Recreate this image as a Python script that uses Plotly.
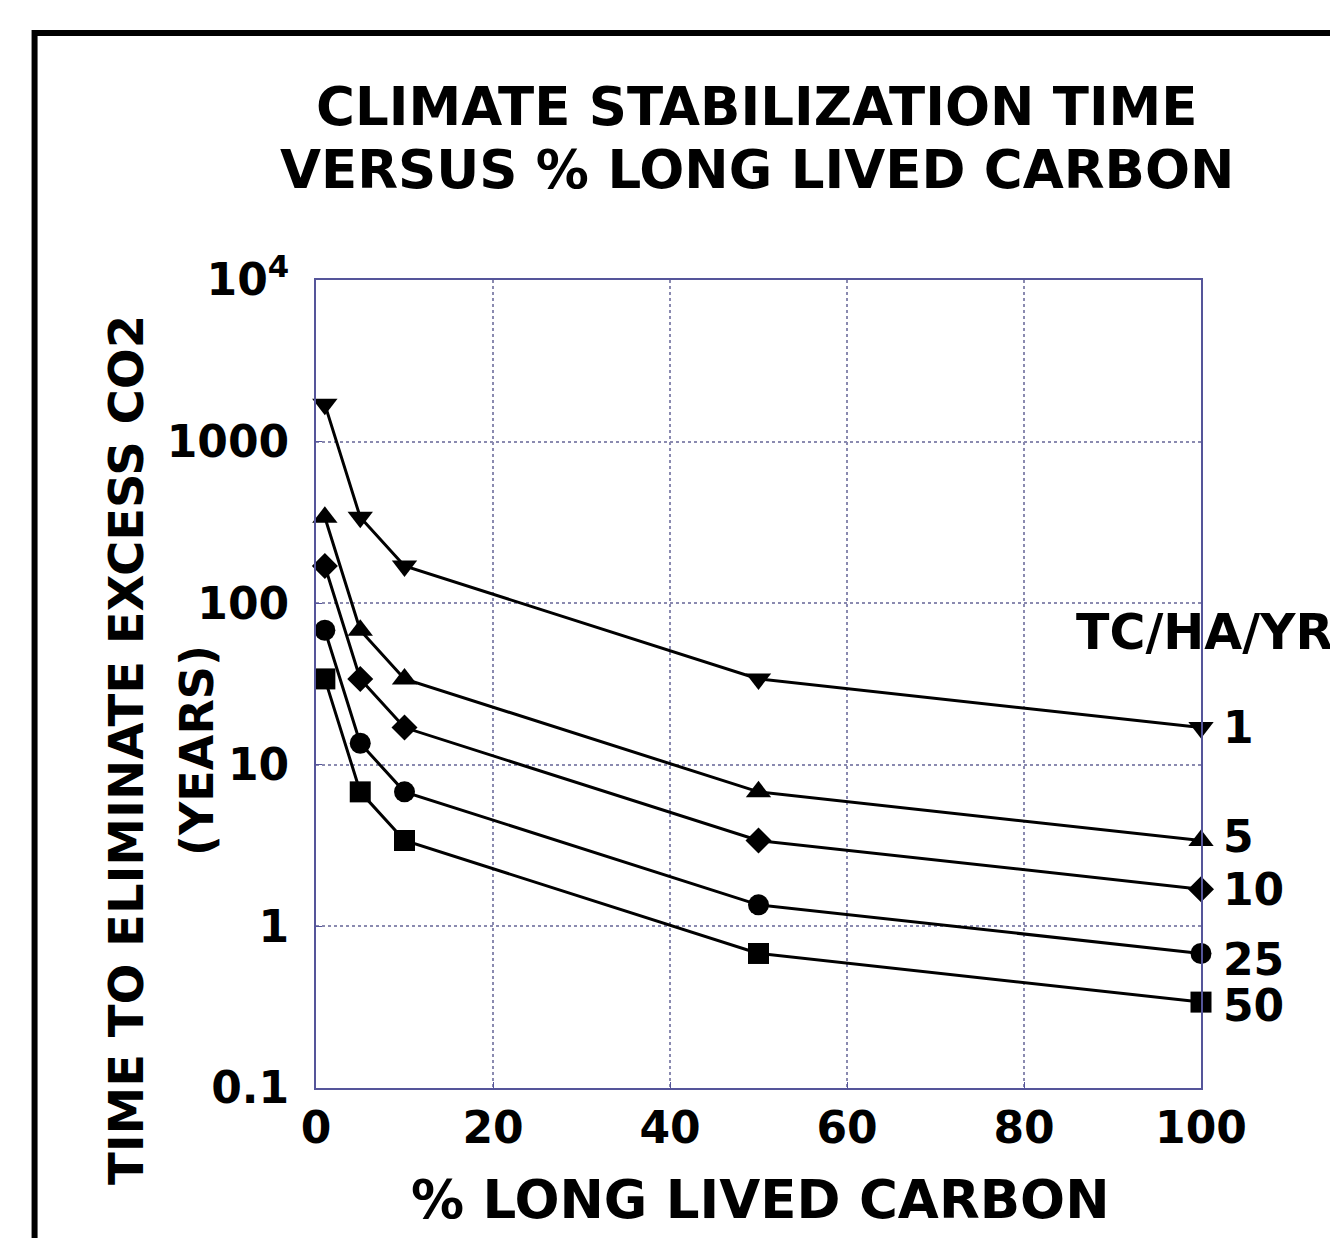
import math
import plotly.graph_objects as go

# ---- data ----
pct_long_lived = [1, 5, 10, 50, 100]
rates = ["1", "5", "10", "25", "50"]
time_rate_1 = [1700, 340, 170, 34, 17]
time_rate_5 = [340, 68, 34, 6.8, 3.4]
time_rate_10 = [170, 34, 17, 3.4, 1.7]
time_rate_25 = [68, 13.6, 6.8, 1.36, 0.68]
time_rate_50 = [34, 6.8, 3.4, 0.68, 0.34]
series_values = [time_rate_1, time_rate_5, time_rate_10, time_rate_25, time_rate_50]

x_ticks = [0, 20, 40, 60, 80, 100]
y_ticks = [0.1, 1, 10, 100, 1000, 10000]
y_tick_text = ["0.1", "1", "10", "100", "1000", "10<sup>4</sup>"]

title_lines = ["CLIMATE STABILIZATION TIME", "VERSUS % LONG LIVED CARBON"]
y_title_lines = ["TIME TO ELIMINATE EXCESS CO2", "(YEARS)"]
x_title = "% LONG LIVED CARBON"
legend_title = "TC/HA/YR"

# ---- style ----
FONT = "DejaVu Sans"
markers = ["triangle-down", "triangle-up", "diamond", "circle", "square"]
marker_sizes = [22, 22, 20, 21, 21]
label_yshift = [0, 4, 0, -6, -3]
AXIS_COLOR = "#55559a"
GRID_COLOR = "#8a8ab0"

fig = go.Figure()
for name, vals, sym, ms in zip(rates, series_values, markers, marker_sizes):
    fig.add_trace(go.Scatter(
        x=pct_long_lived, y=vals, mode="lines+markers", name=name,
        line=dict(color="black", width=3),
        marker=dict(symbol=sym, size=ms, color="black"),
        showlegend=False, cliponaxis=False,
    ))

annotations = []
# end labels (log axis -> annotation y in log10 units)
for name, vals, sh in zip(rates, series_values, label_yshift):
    annotations.append(dict(
        x=pct_long_lived[-1], y=math.log10(vals[-1]), xref="x", yref="y",
        text=name, showarrow=False, xanchor="left", yanchor="middle",
        xshift=20, yshift=sh,
        font=dict(family=FONT, size=44, color="black", weight="bold"),
    ))
# legend heading
annotations.append(dict(
    x=0.857, y=0.564, xref="paper", yref="paper", text=legend_title,
    showarrow=False, xanchor="left", yanchor="middle",
    font=dict(family=FONT, size=49, color="black", weight="bold"),
))
# title
for line, yy in zip(title_lines, [1.2153, 1.1373]):
    annotations.append(dict(
        x=0.498, y=yy, xref="paper", yref="paper", text=line,
        showarrow=False, xanchor="center", yanchor="middle",
        font=dict(family=FONT, size=53, color="black", weight="bold"),
    ))
# y-axis title (two lines)
annotations.append(dict(
    x=-0.2147, y=0.4183, xref="paper", yref="paper", text=y_title_lines[0],
    showarrow=False, textangle=-90, xanchor="center", yanchor="middle",
    font=dict(family=FONT, size=48, color="black", weight="bold"),
))
annotations.append(dict(
    x=-0.1345, y=0.4183, xref="paper", yref="paper", text=y_title_lines[1],
    showarrow=False, textangle=-90, xanchor="center", yanchor="middle",
    font=dict(family=FONT, size=46, color="black", weight="bold"),
))
# x-axis title
annotations.append(dict(
    x=0.5017, y=-0.1386, xref="paper", yref="paper", text=x_title,
    showarrow=False, xanchor="center", yanchor="middle",
    font=dict(family=FONT, size=53, color="black", weight="bold"),
))

fig.update_layout(
    width=1338, height=1238,
    margin=dict(l=308, r=145, t=272, b=158),
    paper_bgcolor="white", plot_bgcolor="white",
    annotations=annotations,
    shapes=[dict(type="rect", xref="paper", yref="paper",
                 x0=-0.318, x1=2.0, y0=-1.0, y1=1.3057,
                 line=dict(color="black", width=6), layer="below")],
)
fig.update_xaxes(
    range=[0, 100], tickvals=x_ticks, ticktext=[str(v) for v in x_ticks],
    showline=True, linecolor=AXIS_COLOR, linewidth=2, mirror=True,
    showgrid=True, gridcolor=GRID_COLOR, griddash="dot", gridwidth=1.5,
    zeroline=False, ticks="inside", ticklen=6, tickcolor=AXIS_COLOR,
    ticklabelstandoff=0,
    tickfont=dict(family=FONT, size=44, color="black", weight="bold"),
)
fig.update_yaxes(
    type="log", range=[-1, 4], tickvals=y_ticks, ticktext=y_tick_text,
    showline=True, linecolor=AXIS_COLOR, linewidth=2, mirror=True,
    showgrid=True, gridcolor=GRID_COLOR, griddash="dot", gridwidth=1.5,
    zeroline=False, ticks="inside", ticklen=6, tickcolor=AXIS_COLOR,
    ticklabelstandoff=16,
    tickfont=dict(family=FONT, size=44, color="black", weight="bold"),
)

fig.write_html("out.html")
